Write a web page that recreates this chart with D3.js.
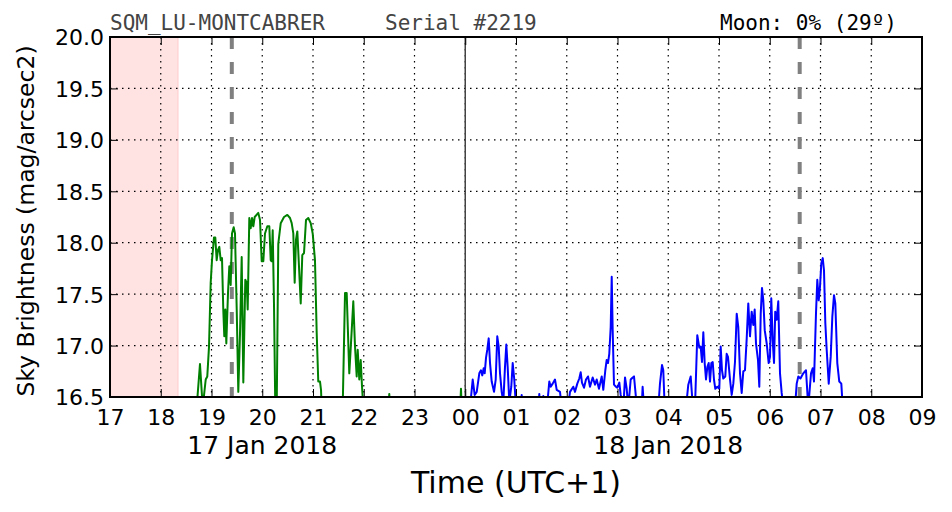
<!DOCTYPE html>
<html>
<head>
<meta charset="utf-8">
<script src="https://cdn.jsdelivr.net/npm/d3@7"></script>
<style>
  body { margin: 0; background: #fff; }
  svg { display: block; }
</style>
</head>
<body>
<svg id="chart" width="952" height="512"></svg>
<script>
// ---- DATA (hours counted from 17 Jan 2018 00:00, UTC+1) ----
const xTicks = d3.range(17, 34);              // 17 .. 09 next day
const yTicks = [16.5, 17.0, 17.5, 18.0, 18.5, 19.0, 19.5, 20.0];
const dayLabels = ["17 Jan 2018", "18 Jan 2018"];
const dayLabelHours = [20, 28];
const twilightSpan = [17, 18.34];             // shaded (sun up / twilight)
const moonMarkers = [19.40, 30.59];           // dashed grey verticals
const midnight = [24];

const greenHours = [18.708,18.773,18.827,18.886,18.917,18.951,18.984,19.010,19.049,19.075,19.102,19.128,19.154,19.181,19.207,19.232,19.252,19.272,19.292,19.325,19.351,19.378,19.404,19.437,19.463,19.497,19.528,19.562,19.595,19.627,19.666,19.694,19.713,19.745,19.772,19.798,19.824,19.851,19.922,19.956,19.989,20.021,20.054,20.100,20.139,20.167,20.186,20.206,20.232,20.257,20.285,20.316,20.364,20.429,20.494,20.547,20.580,20.612,20.639,20.665,20.691,20.724,20.758,20.789,20.823,20.862,20.907,20.955,20.994,21.039,21.073,21.104,21.138,21.158,21.171,
  21.585,21.631,21.664,21.715,21.763,21.794,21.828,21.861,21.881,21.912,21.940,21.966,21.991,
  22.490,22.503,22.515,
  23.900,23.916,23.930];
const greenValues = [16.40,16.82,16.40,16.67,16.70,16.99,17.61,17.83,18.05,18.05,17.83,17.93,17.96,17.83,17.85,17.35,17.09,17.35,17.02,17.51,17.77,17.59,18.09,18.15,18.09,17.35,16.55,17.12,17.86,16.64,17.64,17.61,17.35,18.24,18.14,18.24,18.16,18.25,18.29,18.22,17.82,17.82,18.09,18.16,18.16,17.83,17.82,18.12,17.38,16.40,16.40,17.99,18.19,18.25,18.27,18.24,18.19,18.09,17.61,18.03,18.11,17.77,17.41,17.88,17.90,18.22,18.24,18.19,18.09,17.83,17.12,16.65,16.65,16.57,16.40,
  16.40,17.51,17.51,16.73,17.15,17.43,16.99,16.70,16.96,16.67,16.86,16.60,16.40,
  16.40,16.53,16.40,
  16.40,16.58,16.40];

const blueHours = [24.094,24.147,24.186,24.226,24.277,24.310,24.336,24.363,24.383,24.409,24.434,24.462,24.488,24.521,24.567,24.600,24.631,24.659,24.685,24.718,24.750,24.783,24.809,24.836,24.868,24.907,24.935,24.966,25.000,
  25.100,25.112,25.125,25.445,25.459,25.470,25.525,25.538,25.550,
  25.611,25.656,25.684,25.723,25.768,25.802,25.867,25.900,26.024,26.064,26.129,26.163,26.208,26.247,26.275,26.300,26.340,26.379,26.419,26.458,26.511,26.557,26.590,26.635,26.689,26.720,26.760,26.787,26.813,26.838,26.866,26.886,26.905,26.931,26.970,26.996,27.036,27.063,27.115,27.148,27.181,27.213,27.260,27.300,27.325,27.359,27.384,27.477,27.495,27.522,
  27.804,27.837,27.877,27.902,27.930,
  28.350,28.395,28.442,28.478,28.527,28.572,28.612,28.639,28.665,28.691,28.718,28.744,28.770,28.797,28.823,28.849,28.876,28.901,28.927,28.966,29.006,29.033,29.059,29.084,29.124,29.151,29.177,29.217,29.250,29.282,29.315,29.349,29.380,29.414,29.447,29.479,29.512,29.546,29.577,29.611,29.644,29.676,29.703,29.729,29.768,29.794,29.822,29.847,29.873,29.901,29.940,29.979,30.005,30.030,30.058,30.084,30.108,30.136,30.168,30.202,30.235,30.267,
  30.498,30.531,30.563,30.605,30.661,30.714,30.759,30.813,30.846,30.872,30.911,30.937,30.965,30.990,31.016,31.044,31.069,31.095,31.122,31.162,31.201,31.233,31.266,31.292,31.331,31.370,31.410,31.438];
const blueValues = [16.40,16.67,16.52,16.55,16.73,16.76,16.71,16.78,16.73,16.88,16.96,17.07,16.83,16.65,16.55,16.67,17.09,16.99,16.73,16.55,16.45,16.79,17.01,16.79,16.45,16.60,16.83,16.67,16.40,
  16.40,16.52,16.40,16.40,16.53,16.40,16.40,16.51,16.40,
  16.40,16.65,16.60,16.63,16.67,16.57,16.55,16.40,16.40,16.55,16.60,16.55,16.63,16.68,16.74,16.64,16.59,16.67,16.70,16.60,16.69,16.62,16.67,16.58,16.70,16.57,16.76,16.86,16.83,16.92,17.18,17.67,17.15,16.62,16.60,16.59,16.64,16.52,16.40,16.69,16.58,16.40,16.67,16.69,16.70,16.52,16.40,16.40,16.60,16.40,
  16.40,16.63,16.81,16.76,16.40,
  16.40,16.62,16.70,16.45,16.40,17.10,16.98,16.99,16.84,17.13,16.83,16.67,16.79,16.83,16.65,16.83,16.84,16.67,16.58,16.60,16.58,16.99,16.76,16.68,16.70,16.92,16.89,16.67,16.52,16.63,16.84,17.31,17.18,16.73,16.54,16.75,16.76,17.07,17.41,17.09,17.33,17.20,17.35,17.02,16.86,16.60,17.31,17.56,17.44,17.15,17.02,16.83,16.89,17.46,17.05,16.83,17.33,17.25,17.43,16.73,16.54,16.40,
  16.40,16.63,16.70,16.68,16.73,16.76,16.40,16.73,16.78,16.65,17.31,17.64,17.44,17.57,17.80,17.85,17.73,17.22,16.96,16.63,16.89,17.28,17.49,17.41,16.83,16.65,16.63,16.40];

const titleLeft = "SQM_LU-MONTCABRER";
const titleMid = "Serial #2219";
const titleRight = "Moon: 0% (29º)";
const xTitle = "Time (UTC+1)";
const yTitle = "Sky Brightness (mag/arcsec2)";

// ---- LAYOUT ----
const L = 110, R = 922, T = 37, B = 397;
const svg = d3.select("#chart");
const x = d3.scaleLinear().domain([17, 33]).range([L, R]);
const y = d3.scaleLinear().domain([16.5, 20.0]).range([B, T]);

svg.append("defs").append("clipPath").attr("id", "plotclip")
  .append("rect").attr("x", L).attr("y", T).attr("width", R - L).attr("height", B - T);

// twilight shading
svg.append("rect")
  .attr("x", x(twilightSpan[0])).attr("y", T)
  .attr("width", x(twilightSpan[1]) - x(twilightSpan[0])).attr("height", B - T)
  .attr("fill", "#ffe2e2").attr("stroke", "#ffcccc").attr("stroke-width", 1);

// grid
const grid = svg.append("g").attr("stroke", "#000").attr("stroke-width", 1.2)
  .attr("stroke-dasharray", "1.5,4.5");
grid.selectAll(".gx").data(xTicks.slice(1, -1)).join("line")
  .attr("x1", d => x(d)).attr("x2", d => x(d)).attr("y1", T).attr("y2", B);
grid.selectAll(".gy").data(yTicks.slice(1, -1)).join("line")
  .attr("x1", L).attr("x2", R).attr("y1", d => y(d)).attr("y2", d => y(d));

// moon markers
svg.selectAll(".moon").data(moonMarkers).join("line")
  .attr("x1", d => x(d)).attr("x2", d => x(d)).attr("y1", T).attr("y2", B)
  .attr("stroke", "#808080").attr("stroke-width", 4).attr("stroke-dasharray", "12,13");

// midnight
svg.selectAll(".mid").data(midnight).join("line")
  .attr("x1", d => x(d)).attr("x2", d => x(d)).attr("y1", T).attr("y2", B)
  .attr("stroke", "#444").attr("stroke-width", 1.5);

// data lines
const line = d3.line().x(d => x(d[0])).y(d => y(d[1]));
const plot = svg.append("g").attr("clip-path", "url(#plotclip)");
plot.append("path").datum(d3.zip(greenHours, greenValues))
  .attr("d", line).attr("fill", "none").attr("stroke", "#008000")
  .attr("stroke-width", 2).attr("stroke-linejoin", "round");
plot.append("path").datum(d3.zip(blueHours, blueValues))
  .attr("d", line).attr("fill", "none").attr("stroke", "#0000ff")
  .attr("stroke-width", 2).attr("stroke-linejoin", "round");

// axes (inward ticks)
const fmtH = d => String(d % 24).padStart(2, "0");
const axB = svg.append("g").attr("transform", `translate(0,${B})`)
  .call(d3.axisBottom(x).tickValues(xTicks).tickFormat(fmtH).tickSizeInner(-8).tickSizeOuter(0).tickPadding(12));
const axT = svg.append("g").attr("transform", `translate(0,${T})`)
  .call(d3.axisTop(x).tickValues(xTicks).tickFormat("").tickSizeInner(-8).tickSizeOuter(0));
const axL = svg.append("g").attr("transform", `translate(${L},0)`)
  .call(d3.axisLeft(y).tickValues(yTicks).tickFormat(d3.format(".1f")).tickSizeInner(-8).tickSizeOuter(0).tickPadding(6));
const axR = svg.append("g").attr("transform", `translate(${R},0)`)
  .call(d3.axisRight(y).tickValues(yTicks).tickFormat("").tickSizeInner(-8).tickSizeOuter(0));
[axB, axT, axL, axR].forEach(a => {
  a.select(".domain").remove();
  a.selectAll(".tick line").attr("stroke", "#000").attr("stroke-width", 1);
  a.selectAll("text").attr("font-family", "DejaVu Sans").attr("font-size", 22).attr("fill", "#000");
});
axB.selectAll("text").attr("dy", "0.71em");
axL.selectAll("text").attr("dy", "0.36em");

// frame
svg.append("rect").attr("x", L).attr("y", T).attr("width", R - L).attr("height", B - T)
  .attr("fill", "none").attr("stroke", "#000").attr("stroke-width", 2);

// day labels
svg.selectAll(".day").data(dayLabels).join("text")
  .attr("x", (d, i) => x(dayLabelHours[i])).attr("y", 454)
  .attr("text-anchor", "middle").attr("font-family", "DejaVu Sans").attr("font-size", 25)
  .text(d => d);

// axis titles
svg.append("text").attr("x", x(25)).attr("y", 493).attr("text-anchor", "middle")
  .attr("font-family", "DejaVu Sans").attr("font-size", 30).text(xTitle);
svg.append("text").attr("transform", `translate(34,${(T + B) / 2 + 4}) rotate(-90)`)
  .attr("text-anchor", "middle").attr("font-family", "DejaVu Sans").attr("font-size", 23.5).text(yTitle);

// header
const mono = "DejaVu Sans Mono";
svg.append("text").attr("x", 110).attr("y", 30).attr("font-family", mono).attr("font-size", 21)
  .attr("fill", "#444").text(titleLeft);
svg.append("text").attr("x", 385).attr("y", 30).attr("font-family", mono).attr("font-size", 21)
  .attr("fill", "#444").text(titleMid);
svg.append("text").attr("x", 720).attr("y", 30).attr("font-family", mono).attr("font-size", 21)
  .attr("fill", "#000").text(titleRight);
</script>
</body>
</html>
